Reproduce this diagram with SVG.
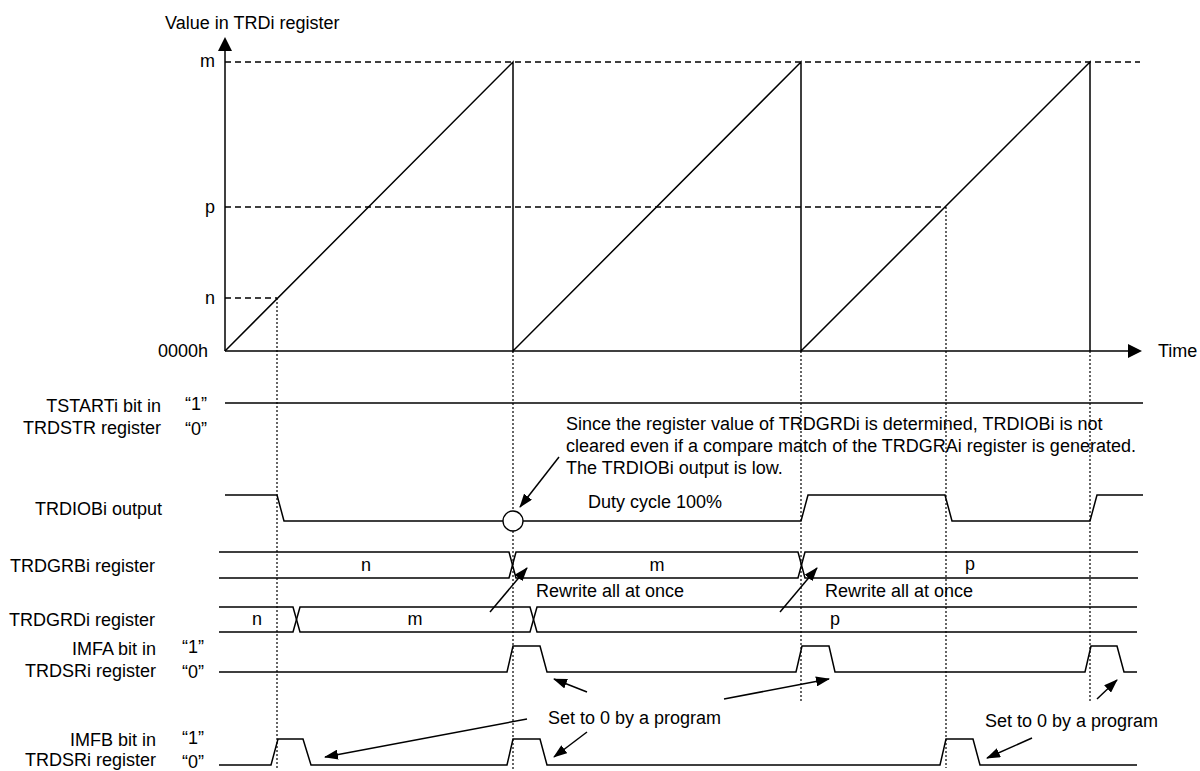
<svg xmlns="http://www.w3.org/2000/svg" width="1200" height="771" viewBox="0 0 1200 771">
<style>
.s{stroke:#000;stroke-width:1.5;fill:none}
.d{stroke:#000;stroke-width:1.4;fill:none;stroke-dasharray:6 4}
.o{stroke:#000;stroke-width:1.2;fill:none;stroke-dasharray:2 2}
.a{stroke:#000;stroke-width:1.5;fill:none;marker-end:url(#ah)}
text{font-family:"Liberation Sans",Arial,sans-serif;font-size:18px;fill:#000}
.e{text-anchor:end}
.m{text-anchor:middle}
</style>
<defs>
<marker id="ah" viewBox="0 0 14 10" refX="13" refY="5" markerWidth="14" markerHeight="10" markerUnits="userSpaceOnUse" orient="auto">
<path d="M0,0 L14,5 L0,10 z" fill="#000"/>
</marker>
</defs>
<rect width="1200" height="771" fill="#fff"/>

<g id="chart">
<text x="165" y="29">Value in TRDi register</text>
<path class="s" d="M225,351 V51"/>
<polygon points="225,37 218,51 232,51" fill="#000"/>
<path class="s" d="M225,351 H1128"/>
<polygon points="1142,351 1128,344 1128,358" fill="#000"/>
<text x="1158" y="357">Time</text>
<text class="e" x="215" y="67">m</text>
<text class="e" x="215" y="213">p</text>
<text class="e" x="215" y="304">n</text>
<text class="e" x="208" y="357">0000h</text>
<path class="d" d="M225,62 H1140"/>
<path class="d" d="M225,207 H946"/>
<path class="d" d="M225,298 H277"/>
<path class="s" d="M225,351 L513,62 V351 L801,62 V351 L1090,62 V351"/>
</g>

<g id="guides">
<path class="o" d="M277,298 V768"/>
<path class="o" d="M513,351 V771"/>
<path class="o" d="M801,351 V703"/>
<path class="o" d="M946,207 V768"/>
<path class="o" d="M1090,351 V703"/>
</g>

<g id="tstart">
<text class="e" x="161" y="412">TSTARTi bit in</text>
<text class="e" x="161" y="434">TRDSTR register</text>
<text x="185" y="410">“1”</text>
<text x="185" y="435">“0”</text>
<path class="s" d="M225,403 H1143"/>
</g>

<g id="trdiobi">
<text class="e" x="162" y="515">TRDIOBi output</text>
<path class="s" d="M225,495 H277 L284,521 H801 L808,495 H945 L952,521 H1090 L1097,495 H1143"/>
<circle cx="513" cy="521" r="10" fill="#fff" stroke="#000" stroke-width="1.3"/>
<text x="588" y="508">Duty cycle 100%</text>
</g>

<g id="trdgrbi">
<text class="e" x="155" y="572">TRDGRBi register</text>
<path class="s" d="M219,552 H509 L516,578 H798 L805,552 H1138"/>
<path class="s" d="M219,578 H509 L516,552 H798 L805,578 H1138"/>
<text class="m" x="366" y="571">n</text>
<text class="m" x="657" y="571">m</text>
<text class="m" x="970" y="570">p</text>
</g>

<g id="trdgrdi">
<text class="e" x="155" y="626">TRDGRDi register</text>
<path class="s" d="M219,607 H293 L300,632 H530 L537,607 H1137"/>
<path class="s" d="M219,632 H293 L300,607 H530 L537,632 H1137"/>
<text class="m" x="257" y="625">n</text>
<text class="m" x="415" y="625">m</text>
<text class="m" x="835" y="625">p</text>
</g>

<g id="imfa">
<text class="e" x="156" y="655">IMFA bit in</text>
<text class="e" x="156" y="677">TRDSRi register</text>
<text x="182" y="653">“1”</text>
<text x="182" y="678">“0”</text>
<path class="s" d="M219,672 H507 L513,646 H540 L547,672 H796 L802,646 H829 L835,672 H1085 L1091,646 H1117 L1124,672 H1137"/>
</g>

<g id="imfb">
<text class="e" x="156" y="746">IMFB bit in</text>
<text class="e" x="156" y="766">TRDSRi register</text>
<text x="182" y="744">“1”</text>
<text x="182" y="768">“0”</text>
<path class="s" d="M219,765 H271 L278,739 H303 L311,765 H507 L513,739 H540 L547,765 H940 L946,739 H973 L980,765 H1137"/>
</g>

<g id="notes">
<text x="566" y="430">Since the register value of TRDGRDi is determined, TRDIOBi is not</text>
<text x="566" y="452">cleared even if a compare match of the TRDGRAi register is generated.</text>
<text x="566" y="474">The TRDIOBi output is low.</text>
<text x="536" y="597">Rewrite all at once</text>
<text x="825" y="597">Rewrite all at once</text>
<text x="548" y="724">Set to 0 by a program</text>
<text x="985" y="727">Set to 0 by a program</text>
</g>

<g id="connectors">
<path class="a" d="M559,457 L520,507"/>
<path class="a" d="M490,612 L527,568"/>
<path class="a" d="M780,612 L817,568"/>
<path class="a" d="M527,719 L325,757"/>
<path class="a" d="M587,732 L554,757"/>
<path class="a" d="M587,692 L554,679"/>
<path class="a" d="M724,699 L829,679"/>
<path class="a" d="M1032,738 L987,758"/>
<path class="a" d="M1097,699 L1117,680"/>
</g>
</svg>
